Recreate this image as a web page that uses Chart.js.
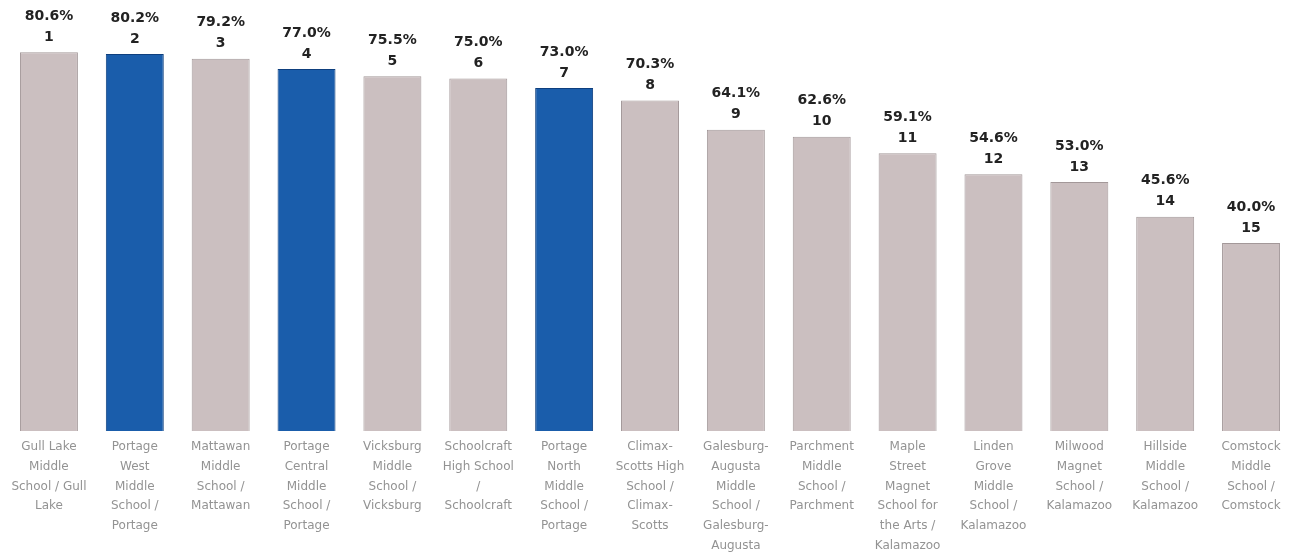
<!DOCTYPE html>
<html>
<head>
<meta charset="utf-8">
<script src="https://cdn.jsdelivr.net/npm/chart.js@4/dist/chart.umd.min.js"></script>
<style>
html,body{margin:0;padding:0;background:#fff;overflow:hidden;}
#wrap{width:1294px;height:558px;}
</style>
</head>
<body>
<div id="wrap"><canvas id="c" width="1294" height="558"></canvas></div>
<script>
const schools = [
  ["Gull Lake","Middle","School / Gull","Lake"],
  ["Portage","West","Middle","School /","Portage"],
  ["Mattawan","Middle","School /","Mattawan"],
  ["Portage","Central","Middle","School /","Portage"],
  ["Vicksburg","Middle","School /","Vicksburg"],
  ["Schoolcraft","High School","/","Schoolcraft"],
  ["Portage","North","Middle","School /","Portage"],
  ["Climax-","Scotts High","School /","Climax-","Scotts"],
  ["Galesburg-","Augusta","Middle","School /","Galesburg-","Augusta"],
  ["Parchment","Middle","School /","Parchment"],
  ["Maple","Street","Magnet","School for","the Arts /","Kalamazoo"],
  ["Linden","Grove","Middle","School /","Kalamazoo"],
  ["Milwood","Magnet","School /","Kalamazoo"],
  ["Hillside","Middle","School /","Kalamazoo"],
  ["Comstock","Middle","School /","Comstock"]
];
const rates = [80.6,80.2,79.2,77.0,75.5,75.0,73.0,70.3,64.1,62.6,59.1,54.6,53.0,45.6,40.0];
const ranks = [1,2,3,4,5,6,7,8,9,10,11,12,13,14,15];
const isPortage = [false,true,false,true,false,false,true,false,false,false,false,false,false,false,false];

const GREY = '#cbbfc0', GREY_B = '#a39899';
const BLUE = '#1a5dab', BLUE_B = '#0e3f7e';

const labelPlugin = {
  id: 'barLabels',
  afterDatasetsDraw(chart) {
    const ctx = chart.ctx;
    const meta = chart.getDatasetMeta(0);
    ctx.save();
    ctx.fillStyle = '#222';
    ctx.textAlign = 'center';
    ctx.textBaseline = 'middle';
    ctx.font = 'bold 14px "DejaVu Sans", Verdana, sans-serif';
    meta.data.forEach((bar, i) => {
      ctx.fillText(rates[i].toFixed(1) + '%', bar.x, bar.y - 36);
      ctx.fillText(String(ranks[i]), bar.x, bar.y - 15);
    });
    ctx.restore();
  }
};

new Chart(document.getElementById('c'), {
  type: 'bar',
  data: {
    labels: schools,
    datasets: [{
      data: rates,
      backgroundColor: isPortage.map(p => p ? BLUE : GREY),
      borderColor: isPortage.map(p => p ? BLUE_B : GREY_B),
      borderWidth: 1,
      categoryPercentage: 1,
      barPercentage: 0.675
    }]
  },
  options: {
    responsive: false,
    animation: false,
    layout: { padding: { left: 6, right: 0, top: 0, bottom: 0 } },
    plugins: { legend: { display: false }, tooltip: { enabled: false } },
    scales: {
      y: { display: false, min: 0, max: 91.7 },
      x: {
        grid: { display: false, drawTicks: false },
        border: { display: false },
        ticks: {
          autoSkip: false, maxRotation: 0, minRotation: 0, padding: 6,
          color: '#939393',
          font: { family: '"DejaVu Sans", Verdana, sans-serif', size: 12, lineHeight: 1.65 }
        },
        afterFit(scale) { scale.height = 127; }
      }
    }
  },
  plugins: [labelPlugin]
});
</script>
</body>
</html>
